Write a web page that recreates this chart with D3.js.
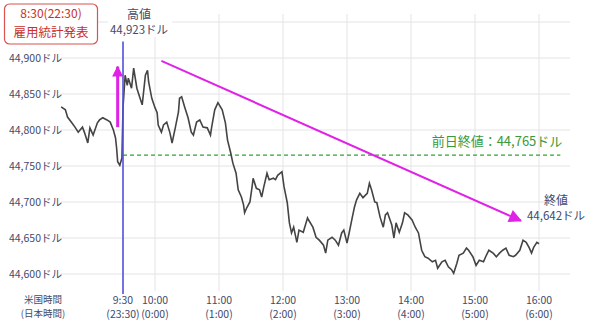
<!DOCTYPE html>
<html>
<head>
<meta charset="utf-8">
<script src="https://cdn.jsdelivr.net/npm/d3@7"></script>
<style>
  body { margin: 0; background: #fff; }
  svg { display: block; font-family: "Noto Sans CJK JP", "Noto Sans", sans-serif; }
</style>
</head>
<body>
<div id="chart"></div>
<script>
// minutes after 8:30 (US Eastern) and price in dollars
const times = [2, 6, 8, 12, 15, 18, 22, 24, 27, 29, 32, 36, 38, 41, 45, 48, 51, 53, 54, 55, 57, 59,
  60, 62, 64, 65, 68, 70, 73, 76, 78, 81, 83, 84, 87, 90, 92, 93, 96, 98, 101, 104, 106, 109, 112, 113,
  115, 118, 121, 124, 126, 129, 132, 135, 139, 142, 143, 146, 149, 153, 156, 158, 161, 163, 166, 168,
  171, 173, 174, 176, 179, 181, 182, 185, 188, 190, 192, 195, 197, 201, 203, 205, 209, 211, 214, 216,
  218, 220, 223, 225, 229, 233, 234, 238, 241, 244, 248, 250, 252, 256, 259, 262, 265, 267, 270, 272,
  275, 277, 279, 282, 285, 289, 291, 293, 296, 298, 301, 304, 306, 308, 312, 314, 316, 319, 322, 324,
  327, 331, 334, 337, 340, 343, 346, 350, 353, 355, 359, 362, 365, 368, 370, 373, 375, 379, 382, 384,
  388, 391, 394, 398, 400, 403, 407, 410, 413, 416, 419, 422, 426, 428, 432, 435, 438, 441, 443, 445,
  448, 450];
const prices = [44832, 44828, 44818, 44810, 44804, 44797, 44804, 44796, 44782, 44803, 44793, 44810,
  44814, 44817, 44814, 44811, 44800, 44789, 44775, 44756, 44751, 44761,
  44831, 44876, 44862, 44872, 44858, 44886, 44858, 44844, 44835, 44876, 44883, 44867, 44844, 44831,
  44824, 44807, 44797, 44807, 44811, 44796, 44782, 44803, 44825, 44844, 44846, 44831, 44817, 44797,
  44793, 44811, 44814, 44804, 44803, 44793, 44803, 44828, 44838, 44828, 44810, 44786, 44768, 44754,
  44740, 44717, 44707, 44696, 44685, 44692, 44700, 44721, 44733, 44719, 44717, 44707, 44721, 44740,
  44731, 44733, 44731, 44737, 44742, 44721, 44699, 44671, 44657, 44665, 44644, 44661, 44658, 44678,
  44675, 44665, 44651, 44647, 44640, 44629, 44647, 44651, 44647, 44640, 44657, 44661, 44643, 44657,
  44679, 44693, 44703, 44712, 44706, 44712, 44726, 44717, 44700, 44699, 44679, 44665, 44682, 44685,
  44668, 44650, 44671, 44658, 44671, 44685, 44682, 44675, 44665, 44657, 44633, 44624, 44622, 44617,
  44619, 44608, 44617, 44619, 44610, 44606, 44601, 44615, 44626, 44629, 44636, 44633, 44624, 44612,
  44619, 44617, 44624, 44633, 44629, 44624, 44629, 44633, 44636, 44626, 44624, 44626, 44633, 44647,
  44644, 44636, 44629, 44637, 44644, 44642];

const yTicks = [44600, 44650, 44700, 44750, 44800, 44850, 44900, 44950];
const yTickLabels = ["44,600ドル", "44,650ドル", "44,700ドル", "44,750ドル", "44,800ドル", "44,850ドル", "44,900ドル", ""];
const xTicks = [60, 90, 150, 210, 270, 330, 390, 450];
const xTickUS = ["9:30", "10:00", "11:00", "12:00", "13:00", "14:00", "15:00", "16:00"];
const xTickJP = ["(23:30)", "(0:00)", "(1:00)", "(2:00)", "(3:00)", "(4:00)", "(5:00)", "(6:00)"];

const highValue = 44923;
const closeValue = 44642;
const prevClose = 44765;
const openMinute = 60;
// annotation arrows in data units: [minute, price]
const upArrow = [[55, 44804], [55, 44888]];
const trendArrow = [[96, 44896], [433, 44674]];

const width = 600, height = 327;
const x = d3.scaleLinear().domain([0, 480]).range([59, 571]);
const y = d3.scaleLinear().domain([44600, 44900]).range([274, 58]);
const plotTop = 14, plotBottom = 291;
const textColor = "#434a6b";
const magenta = "#e021e6";

const svg = d3.select("#chart").append("svg")
  .attr("width", width).attr("height", height);

const defs = svg.append("defs");
defs.append("marker")
  .attr("id", "head")
  .attr("viewBox", "0 0 10 10")
  .attr("refX", 9).attr("refY", 5)
  .attr("markerUnits", "userSpaceOnUse")
  .attr("markerWidth", 15).attr("markerHeight", 13)
  .attr("orient", "auto")
  .append("path").attr("d", "M0,0L10,5L0,10Z").attr("fill", magenta);
defs.append("marker")
  .attr("id", "headUp")
  .attr("viewBox", "0 0 10 10")
  .attr("refX", 9).attr("refY", 5)
  .attr("markerUnits", "userSpaceOnUse")
  .attr("markerWidth", 11).attr("markerHeight", 11)
  .attr("orient", "auto")
  .append("path").attr("d", "M0,0L10,5L0,10Z").attr("fill", magenta);

// grid
svg.append("g").selectAll("line")
  .data(yTicks)
  .join("line")
  .attr("x1", x(0) + 2).attr("x2", x(480) - 1)
  .attr("y1", (d) => y(d)).attr("y2", (d) => y(d))
  .attr("stroke", "#e4e4e8").attr("stroke-width", 1);

svg.append("g").selectAll("line")
  .data(xTicks.slice(1))
  .join("line")
  .attr("x1", (d) => x(d)).attr("x2", (d) => x(d))
  .attr("y1", plotTop).attr("y2", plotBottom)
  .attr("stroke", "#e4e4e8").attr("stroke-width", 1);

// y labels
svg.append("g").selectAll("text")
  .data(yTicks)
  .join("text")
  .attr("x", 62).attr("y", (d) => y(d) + 4)
  .attr("text-anchor", "end")
  .attr("font-size", 10.5)
  .attr("fill", textColor)
  .text((d, i) => yTickLabels[i]);

// x labels
const xl = svg.append("g").attr("font-size", 10.5).attr("fill", textColor).attr("text-anchor", "middle");
xl.selectAll("text.us").data(xTicks).join("text").attr("class", "us")
  .attr("x", (d) => x(d)).attr("y", 304).text((d, i) => xTickUS[i]);
xl.selectAll("text.jp").data(xTicks).join("text").attr("class", "jp")
  .attr("x", (d) => x(d)).attr("y", 318).text((d, i) => xTickJP[i]);
xl.append("text").attr("x", 43).attr("y", 303).attr("font-size", 9.5).text("米国時間");
xl.append("text").attr("x", 43).attr("y", 317).attr("font-size", 9.5).text("(日本時間)");

// previous close
svg.append("line")
  .attr("x1", x(openMinute)).attr("x2", x(470))
  .attr("y1", y(prevClose)).attr("y2", y(prevClose))
  .attr("stroke", "#2ea52e").attr("stroke-width", 1.3)
  .attr("stroke-dasharray", "4,3");
svg.append("text")
  .attr("x", x(470) + 2).attr("y", y(prevClose) - 9)
  .attr("text-anchor", "end").attr("font-size", 13)
  .attr("fill", "#3a9a3a")
  .text("前日終値：44,765ドル");

// price line
const points = times.map((t, i) => [t, prices[i]]);
const line = d3.line().x((d) => x(d[0])).y((d) => y(d[1]));
svg.append("path")
  .datum(points)
  .attr("d", line)
  .attr("fill", "none")
  .attr("stroke", "#444")
  .attr("stroke-width", 1.6)
  .attr("stroke-linejoin", "miter");

// 9:30 open marker
svg.append("line")
  .attr("x1", x(openMinute)).attr("x2", x(openMinute))
  .attr("y1", y(highValue)).attr("y2", 294)
  .attr("stroke", "#5050e0").attr("stroke-width", 1.6);

// arrows
svg.append("line")
  .attr("x1", x(upArrow[0][0])).attr("y1", y(upArrow[0][1]))
  .attr("x2", x(upArrow[1][0])).attr("y2", y(upArrow[1][1]))
  .attr("stroke", magenta).attr("stroke-width", 3)
  .attr("marker-end", "url(#headUp)");
svg.append("line")
  .attr("x1", x(trendArrow[0][0])).attr("y1", y(trendArrow[0][1]))
  .attr("x2", x(trendArrow[1][0])).attr("y2", y(trendArrow[1][1]))
  .attr("stroke", magenta).attr("stroke-width", 2)
  .attr("marker-end", "url(#head)");

// event box
svg.append("rect")
  .attr("x", 4.5).attr("y", 4).attr("width", 93).attr("height", 40).attr("rx", 5)
  .attr("fill", "#fff").attr("stroke", "#d9534f").attr("stroke-width", 1.2);
svg.append("text").attr("x", 51).attr("y", 18).attr("text-anchor", "middle")
  .attr("font-size", 12).attr("fill", "#c9302c").text("8:30(22:30)");
svg.append("text").attr("x", 51).attr("y", 37).attr("text-anchor", "middle")
  .attr("font-size", 12.5).attr("fill", "#c9302c").text("雇用統計発表");

// high label
svg.append("rect").attr("x", 108).attr("y", 6).attr("width", 64).attr("height", 31).attr("fill", "#fff");
svg.append("text").attr("x", x(openMinute) + 16).attr("y", 19).attr("text-anchor", "middle")
  .attr("font-size", 12).attr("fill", textColor).text("高値");
svg.append("text").attr("x", x(openMinute) + 16).attr("y", 34).attr("text-anchor", "middle")
  .attr("font-size", 11.5).attr("fill", textColor).text("44,923ドル");

// close label
svg.append("text").attr("x", x(450) + 17).attr("y", y(closeValue) - 39).attr("text-anchor", "middle")
  .attr("font-size", 12).attr("fill", textColor).text("終値");
svg.append("text").attr("x", x(450) + 17).attr("y", y(closeValue) - 24).attr("text-anchor", "middle")
  .attr("font-size", 11.5).attr("fill", textColor).text("44,642ドル");
</script>
</body>
</html>
